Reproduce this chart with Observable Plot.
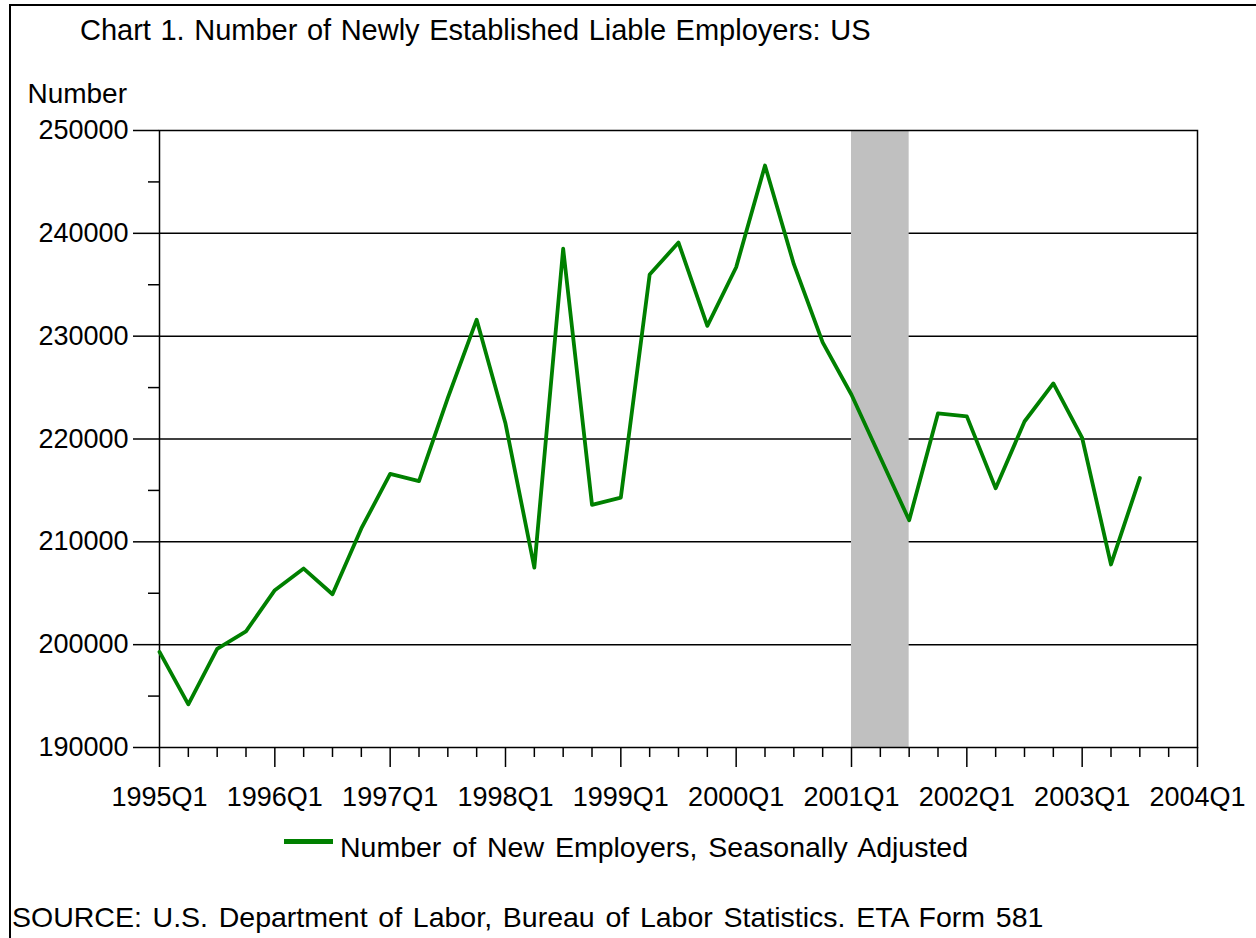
<!DOCTYPE html>
<html>
<head>
<meta charset="utf-8">
<script src="https://cdn.jsdelivr.net/npm/d3@7"></script>
<script src="https://cdn.jsdelivr.net/npm/@observablehq/plot@0.6"></script>
<style>
  body { margin: 0; background: #fff; }
  #page { position: relative; width: 1256px; height: 938px; overflow: hidden;
          font-family: "Liberation Sans", Arial, sans-serif; color: #000; background: #fff; }
  .bt { position: absolute; left: 9px; top: 4px; right: 0; height: 2px; background: #000; }
  .bl { position: absolute; left: 9px; top: 4px; bottom: 0; width: 2px; background: #000; }
  .txt { position: absolute; white-space: pre; line-height: 1; }
  #chart { position: absolute; left: 0; top: 60px; }
  #swatch { position: absolute; left: 284px; top: 839px; width: 49px; height: 5px; background: #008000; }
</style>
</head>
<body>
<div id="page">
  <div class="bt"></div>
  <div class="bl"></div>
  <div class="txt" id="title" style="left:80px; top:16px; font-size:29px; word-spacing:1.5px;"></div>
  <div class="txt" id="ylabel" style="right:1129px; top:80px; font-size:28px;"></div>
  <div id="chart"></div>
  <div id="swatch"></div>
  <div class="txt" id="legend" style="left:340px; top:833px; font-size:28.5px; word-spacing:3px;"></div>
  <div class="txt" id="source" style="left:12px; top:903px; font-size:28.5px; word-spacing:2.8px;"></div>
</div>
<script>
const titleText = "Chart 1. Number of Newly Established Liable Employers: US";
const yLabelText = "Number";
const legendText = "Number of New Employers, Seasonally Adjusted";
const sourceText = "SOURCE: U.S. Department of Labor, Bureau of Labor Statistics. ETA Form 581";

const quarters = [
  "1995Q1","1995Q2","1995Q3","1995Q4",
  "1996Q1","1996Q2","1996Q3","1996Q4",
  "1997Q1","1997Q2","1997Q3","1997Q4",
  "1998Q1","1998Q2","1998Q3","1998Q4",
  "1999Q1","1999Q2","1999Q3","1999Q4",
  "2000Q1","2000Q2","2000Q3","2000Q4",
  "2001Q1","2001Q2","2001Q3","2001Q4",
  "2002Q1","2002Q2","2002Q3","2002Q4",
  "2003Q1","2003Q2","2003Q3"
];
const newEmployers = [
  199300, 194200, 199600, 201300,
  205300, 207400, 204900, 211300,
  216600, 215900, 224000, 231600,
  221500, 207500, 238500, 213600,
  214300, 236000, 239100, 231000,
  236700, 246600, 237000, 229400,
  224300, 218200, 212100, 222500,
  222200, 215200, 221700, 225400,
  220100, 207800, 216200
];
const recessionStart = ["2001Q1"];
const recessionEnd = ["2001Q3"];
const xTickLabels = ["1995Q1","1996Q1","1997Q1","1998Q1","1999Q1","2000Q1","2001Q1","2002Q1","2003Q1","2004Q1"];
const yTickValues = [190000, 200000, 210000, 220000, 230000, 240000, 250000];
const yMinorValues = [195000, 205000, 215000, 225000, 235000, 245000];

document.getElementById("title").textContent = titleText;
document.getElementById("ylabel").textContent = yLabelText;
document.getElementById("legend").textContent = legendText;
document.getElementById("source").textContent = sourceText;

const qNum = q => +q.slice(0, 4) + (+q.slice(5) - 1) / 4;

const data = quarters.map((q, i) => ({t: qNum(q), v: newEmployers[i]}));
const recession = recessionStart.map((s, i) => ({x1: qNum(s), x2: qNum(recessionEnd[i])}));
const xMajor = xTickLabels.map(qNum);
const xDomain = [xMajor[0], xMajor[xMajor.length - 1]];
const xMinor = d3.range(xDomain[0] * 4, xDomain[1] * 4 + 1).map(d => d / 4).filter(d => !Number.isInteger(d));

const chart = Plot.plot({
  width: 1256,
  height: 760,
  marginLeft: 159,
  marginRight: 59,
  marginTop: 70,
  marginBottom: 73,
  style: {
    fontFamily: '"Liberation Sans", Arial, sans-serif',
    fontSize: "27px",
    color: "#000",
    background: "transparent",
    overflow: "visible"
  },
  x: {type: "linear", domain: xDomain},
  y: {domain: [yTickValues[0], yTickValues[yTickValues.length - 1]]},
  marks: [
    Plot.gridY({ticks: yTickValues.slice(1, -1), stroke: "#000", strokeOpacity: 1, strokeWidth: 1.5}),
    Plot.rect(recession, {x1: "x1", x2: "x2", fill: "#c0c0c0"}),
    Plot.frame({stroke: "#000", strokeWidth: 1.5}),
    Plot.line(data, {x: "t", y: "v", stroke: "#008000", strokeWidth: 3.8}),
    Plot.axisY({ticks: yTickValues, tickSize: 26, tickPadding: 5, tickFormat: d3.format("d"), label: null, strokeWidth: 1.5}),
    Plot.axisY({ticks: yMinorValues, tickSize: 11, tickFormat: () => "", label: null, strokeWidth: 1.5}),
    Plot.axisX({ticks: xMajor, tickSize: 20, tickPadding: 19, tickFormat: (d, i) => xTickLabels[i], label: null, strokeWidth: 1.5}),
    Plot.axisX({ticks: xMinor, tickSize: 10, tickFormat: () => "", label: null, strokeWidth: 1.5})
  ]
});
document.getElementById("chart").appendChild(chart);
</script>
</body>
</html>
